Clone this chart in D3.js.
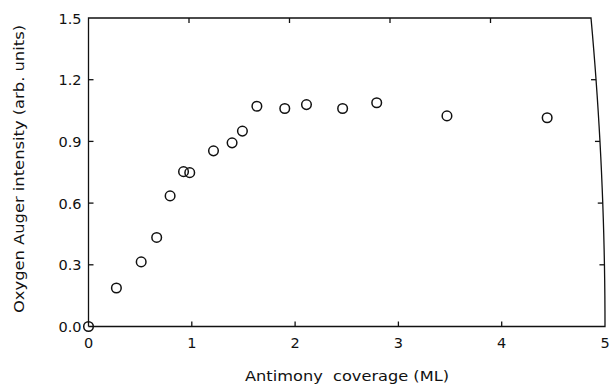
<!DOCTYPE html>
<html>
<head>
<meta charset="utf-8">
<script src="https://cdn.jsdelivr.net/npm/d3@7"></script>
<style>
  html, body { margin: 0; padding: 0; background: #fff; }
  svg { display: block; }
  text { font-family: "DejaVu Sans", "Liberation Sans", sans-serif; fill: #111; }
</style>
</head>
<body>
<svg id="chart" width="610" height="386"></svg>
<script>
// Sb coverage (ML) vs O Auger intensity (arb. units)
const coverage  = [0, 0.27, 0.51, 0.66, 0.79, 0.92, 0.98, 1.21, 1.39, 1.49, 1.63, 1.90, 2.11, 2.46, 2.79, 3.47, 4.44];
const intensity = [0, 0.187, 0.314, 0.433, 0.635, 0.753, 0.748, 0.854, 0.893, 0.950, 1.071, 1.060, 1.079, 1.060, 1.088, 1.024, 1.015];
const xTicks = [0, 1, 2, 3, 4, 5];
const yTicks = [0.0, 0.3, 0.6, 0.9, 1.2, 1.5];

const svg = d3.select("#chart");
const plotLeft = 88.5, plotTop = 18, plotBottom = 326.5;
const rightBottom = 605, rightTop = 591;

const x = d3.scaleLinear().domain([0, 5]).range([plotLeft, rightBottom]);
const xTop = d3.scaleLinear().domain([0, 5]).range([plotLeft, rightTop]);
const y = d3.scaleLinear().domain([0, 1.5]).range([plotBottom, plotTop]);

// scanned page: right edge bows inward toward the top
const rightEdge = (py) => {
  const t = (plotBottom - py) / (plotBottom - plotTop);
  return rightBottom - (rightBottom - rightTop) * t * t;
};

const ink = "#111";
const frame = svg.append("g").attr("fill", "none").attr("stroke", ink).attr("stroke-width", 1.3);

const edgePts = d3.range(0, 21).map(i => {
  const py = plotTop + (plotBottom - plotTop) * i / 20;
  return [rightEdge(py), py];
});
frame.append("path")
  .attr("d", d3.line()([[plotLeft, plotBottom], [plotLeft, plotTop], ...edgePts, [plotLeft, plotBottom]]));

const tickLen = 5;
// bottom and top ticks (inward)
xTicks.slice(1, -1).forEach(v => {
  frame.append("line").attr("x1", x(v)).attr("x2", x(v)).attr("y1", plotBottom).attr("y2", plotBottom - tickLen);
  frame.append("line").attr("x1", xTop(v)).attr("x2", xTop(v)).attr("y1", plotTop).attr("y2", plotTop + tickLen);
});
// left and right ticks (inward)
yTicks.slice(1, -1).forEach(v => {
  frame.append("line").attr("x1", plotLeft).attr("x2", plotLeft + tickLen).attr("y1", y(v)).attr("y2", y(v));
  const rx = rightEdge(y(v));
  frame.append("line").attr("x1", rx).attr("x2", rx - tickLen).attr("y1", y(v)).attr("y2", y(v));
});

// tick labels
svg.append("g").selectAll("text").data(xTicks).join("text")
  .attr("x", d => x(d)).attr("y", plotBottom + 21)
  .attr("text-anchor", "middle").attr("font-size", 14.5)
  .text(d => d3.format("d")(d));

svg.append("g").selectAll("text").data(yTicks).join("text")
  .attr("x", plotLeft - 7).attr("y", d => y(d) + 5.5)
  .attr("text-anchor", "end").attr("font-size", 14.5)
  .text(d => d3.format(".1f")(d));

// axis titles
svg.append("text")
  .attr("x", 347).attr("y", 381)
  .attr("text-anchor", "middle").attr("font-size", 14)
  .attr("textLength", 204).attr("lengthAdjust", "spacingAndGlyphs")
  .style("white-space", "pre")
  .text("Antimony  coverage (ML)");

svg.append("text")
  .attr("transform", "translate(24,169) rotate(-90)")
  .attr("text-anchor", "middle").attr("font-size", 14)
  .attr("textLength", 288).attr("lengthAdjust", "spacingAndGlyphs")
  .text("Oxygen Auger intensity (arb. units)");

// data
svg.append("g").selectAll("circle").data(coverage).join("circle")
  .attr("cx", (d) => x(d))
  .attr("cy", (d, i) => y(intensity[i]))
  .attr("r", 4.8)
  .attr("fill", "none").attr("stroke", ink).attr("stroke-width", 1.5);
</script>
</body>
</html>
